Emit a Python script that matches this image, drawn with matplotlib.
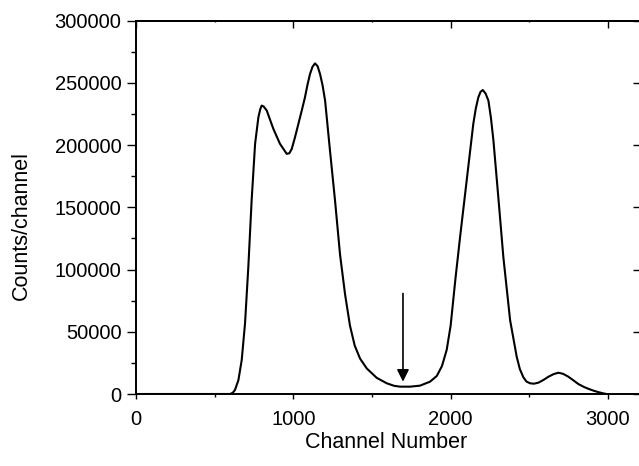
import matplotlib
matplotlib.use("Agg")
import matplotlib.pyplot as plt
from matplotlib.ticker import MultipleLocator

plt.rcParams["font.family"] = ["Liberation Sans", "DejaVu Sans"]

# spectrum
channel = [0, 300, 598, 615, 629, 651, 672, 693, 714, 735, 757, 778, 790, 799,
           812, 831, 873, 915, 958, 975, 990, 1010, 1032, 1054, 1074, 1090, 1106,
           1122, 1138, 1154, 1170, 1186, 1202, 1233, 1265, 1297, 1329, 1360,
           1390, 1424, 1467, 1530, 1594, 1640, 1678, 1742, 1805, 1869, 1912,
           1945, 1975, 2000, 2030, 2060, 2102, 2144, 2160, 2176, 2190, 2204,
           2222, 2240, 2256, 2272, 2303, 2335, 2378, 2420, 2440, 2462, 2482,
           2505, 2530, 2558, 2590, 2622, 2655, 2685, 2715, 2748, 2780, 2812,
           2845, 2875, 2910, 2939, 2971, 2990]
counts = [0, 0, 0, 1000, 3200, 11200, 27300, 56700, 102100, 155600, 201100,
          222400, 229000, 231800, 231000, 227800, 213100, 201100, 193000,
          193500, 197000, 206000, 217000, 228000, 238400, 248500, 257100,
          263000, 265700, 263500, 257100, 248000, 235800, 195700, 155600,
          112000, 80000, 55000, 39000, 28500, 20500, 13000, 8600, 6600, 5900,
          5900, 6700, 9900, 14500, 22500, 35500, 55000, 92000, 126200, 171600,
          217100, 229500, 238400, 242800, 244300, 241500, 235800, 222000,
          203700, 158200, 110100, 59300, 29900, 20000, 13500, 10000, 8600,
          8300, 9100, 11300, 13900, 16000, 17100, 16200, 13900, 11000, 8000,
          5800, 4200, 2600, 1500, 500, 0]

arrow_x = 1697
arrow_top = 80800
arrow_tip = 9900

fig = plt.figure(figsize=(6.39, 4.66), dpi=100)
W, H = 639, 466
left, right, top, bottom = 136, 641, 20.7, 394
ax = fig.add_axes([left / W, 1 - bottom / H, (right - left) / W, (bottom - top) / H])

ax.plot(channel, counts, color="black", lw=1.5)
ax.annotate("", xy=(arrow_x, arrow_tip), xytext=(arrow_x, arrow_top),
            arrowprops=dict(arrowstyle="-|>", color="black", lw=1.2,
                            mutation_scale=18, shrinkA=0, shrinkB=0))

ax.set_xlim(0, 3210)
ax.set_ylim(0, 300000)
ax.xaxis.set_major_locator(MultipleLocator(1000))
ax.xaxis.set_minor_locator(MultipleLocator(500))
ax.yaxis.set_major_locator(MultipleLocator(50000))
ax.yaxis.set_minor_locator(MultipleLocator(25000))

for s in ax.spines.values():
    s.set_linewidth(1.4)

ax.tick_params(axis="y", which="major", direction="out", length=6.5, width=1.0,
               labelsize=14.5, pad=4)
ax.tick_params(axis="y", which="minor", direction="out", length=3.6, width=1.0)
ax.tick_params(axis="x", which="major", direction="out", length=3.8, width=1.0,
               labelsize=14.5, pad=8)
ax.tick_params(axis="x", which="minor", direction="out", length=2.0, width=1.0)

# inward ticks on top and right
sx = ax.secondary_xaxis("top")
sx.xaxis.set_major_locator(MultipleLocator(1000))
sx.xaxis.set_minor_locator(MultipleLocator(500))
sx.tick_params(which="major", direction="in", length=5, width=1.0, labeltop=False)
sx.tick_params(which="minor", direction="in", length=1, width=1.0)
sx.spines["top"].set_linewidth(1.4)

sy = ax.secondary_yaxis("right")
sy.yaxis.set_major_locator(MultipleLocator(50000))
sy.tick_params(which="major", direction="in", length=5.8, width=1.0, labelright=False)
sy.spines["right"].set_linewidth(1.4)

ax.set_xlabel("Channel Number", fontsize=15.5)
ax.set_ylabel("Counts/channel", fontsize=15.5)
ax.xaxis.set_label_coords((386.5 - left) / (right - left), -(432 - bottom) / (bottom - top))
ax.yaxis.set_label_coords((32 - left) / (right - left), (bottom - 226) / (bottom - top))

fig.savefig("out.png", dpi=100)
